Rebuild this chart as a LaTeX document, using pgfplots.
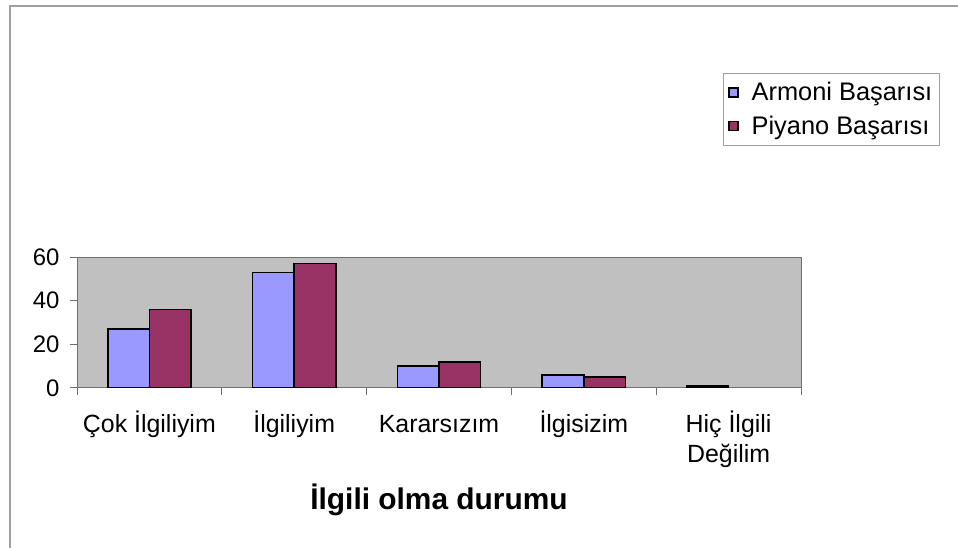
\documentclass[border=0pt]{standalone}
\usepackage{fontspec}
\setmainfont{Liberation Sans}
\usepackage{pgfplots}
\pgfplotsset{compat=1.18}
\definecolor{armoni}{HTML}{9999FF}
\definecolor{piyano}{HTML}{993366}
\definecolor{plotbg}{HTML}{C0C0C0}
\definecolor{framegray}{HTML}{A0A0A0}
\definecolor{axisgray}{HTML}{707070}
\begin{document}
\begin{tikzpicture}
\path[use as bounding box] (0bp,0bp) rectangle (958bp,548bp);
\draw[framegray, line width=1.5bp] (10bp,0bp) -- (10bp,542bp) -- (958bp,542bp);
\begin{axis}[
  at={(77bp,160bp)}, anchor=south west,
  width=724bp, height=131bp, scale only axis,
  ybar=0pt, bar width=41.6bp,
  xmin=-0.5, xmax=4.5, ymin=0, ymax=60,
  xtick={-0.5,0.5,1.5,2.5,3.5,4.5},
  xticklabels={},
  extra x ticks={0,1,2,3,4},
  extra x tick labels={\vphantom{İ}Çok İlgiliyim, İlgiliyim, \vphantom{İ}Kararsızım, İlgisizim, {Hiç İlgili\\Değilim}},
  extra x tick style={major tick length=0pt, grid=none},
  xtick pos=bottom, ytick pos=left,
  ytick={0,20,40,60},
  tick align=outside,
  major tick length=7bp,
  axis background/.style={fill=plotbg},
  axis line style={draw=axisgray, line width=1bp},
  tick style={draw=axisgray, line width=1bp},
  y tick label style={font=\fontsize{24}{28}\selectfont, /pgf/number format/assume math mode=true, xshift=-7bp},
  x tick label style={font=\fontsize{25}{30}\selectfont, align=center, anchor=north, yshift=-19bp},
  xlabel={İlgili olma durumu},
  xlabel style={font=\bfseries\fontsize{30}{34}\selectfont, at={(axis description cs:0.5,-0.855)}, anchor=center},
  legend style={at={(axis description cs:0.892,2.405)}, anchor=north west, draw=framegray, line width=1bp, fill=white,
    font=\fontsize{25.5}{28}\selectfont, row sep=10bp, inner xsep=5bp, inner ysep=7bp,
    /tikz/every odd column/.append style={column sep=11bp}},
  legend cell align=left,
  legend image code/.code={\draw[#1, draw=black, line width=1.3bp] (0bp,-4.5bp) rectangle (9bp,4.5bp);},
]
\addplot[fill=armoni, draw=black, line width=1.5bp] coordinates {(0,27) (1,53) (2,10) (3,6) (4,1)};
\addplot[fill=piyano, draw=black, line width=1.5bp] coordinates {(0,36) (1,57) (2,12) (3,5)};
\legend{Armoni Başarısı, Piyano Başarısı}
\end{axis}
\end{tikzpicture}
\end{document}
